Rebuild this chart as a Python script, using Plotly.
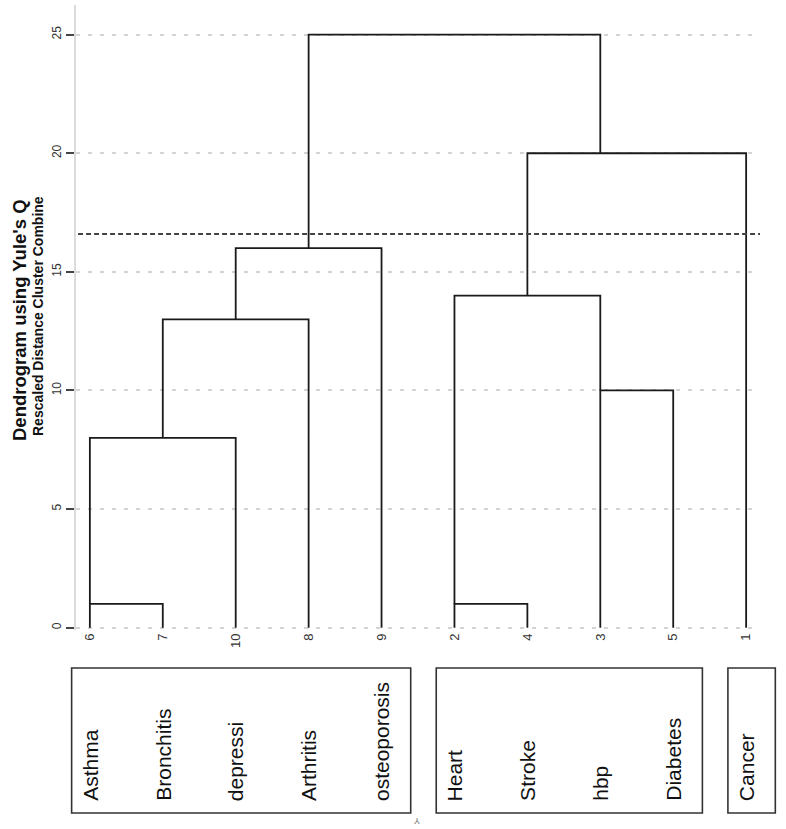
import math
import plotly.graph_objects as go

# ---------------- data ----------------
leaf_ids = [6, 7, 10, 8, 9, 2, 4, 3, 5, 1]
leaf_names = ["Asthma", "Bronchitis", "depressi", "Arthritis", "osteoporosis",
              "Heart", "Stroke", "hbp", "Diabetes", "Cancer"]
# merges: left node, right node, height (ints = case ids, "cK" = K-th merge)
merge_left = [6, 2, "c0", 3, "c2", "c1", "c4", "c5", "c6"]
merge_right = [7, 4, 10, 5, 8, "c3", 9, 1, "c7"]
merge_height = [1, 1, 8, 10, 13, 14, 16, 20, 25]
cut_height = 16.6
groups = [[6, 7, 10, 8, 9], [2, 4, 3, 5], [1]]
y_ticks = [0, 5, 10, 15, 20, 25]

# ---------------- layout constants ----------------
W, H = 786, 829
ML, MR, MT, MB = 76, 26, 5, 199
XR = [-0.19, 9.19]
YR = [-0.1, 26.25]

pos = {}
hgt = {}
for i, lid in enumerate(leaf_ids):
    pos[lid] = i
    hgt[lid] = 0.0

xs, ys = [], []
for k, (a, b, h) in enumerate(zip(merge_left, merge_right, merge_height)):
    pa, pb = pos[a], pos[b]
    xs += [pa, pa, pb, pb, None]
    ys += [hgt[a], h, h, hgt[b], None]
    pos["c%d" % k] = math.floor((pa + pb) / 2)
    hgt["c%d" % k] = h

fig = go.Figure()
fig.add_trace(go.Scatter(x=xs, y=ys, mode="lines",
                         line=dict(color="#1a1a1a", width=1.8),
                         hoverinfo="skip", showlegend=False))

plot_w = W - ML - MR
plot_h = H - MT - MB

def px_x(d):
    return (d - XR[0]) / (XR[1] - XR[0])

def paper_x(px):
    return (px - ML) / plot_w

def py_paper(py):
    return (H - MB - py) / plot_h

shapes = []
# threshold line
shapes.append(dict(type="line", xref="paper", yref="y", x0=0.003, x1=1,
                   y0=cut_height, y1=cut_height,
                   line=dict(color="#444444", width=2, dash="5px,3px")))
# group boxes
pad_l, pad_r = 0.25, 0.4
for g in groups:
    p0 = min(leaf_ids.index(c) for c in g)
    p1 = max(leaf_ids.index(c) for c in g)
    shapes.append(dict(type="rect", xref="paper", yref="paper",
                       x0=px_x(p0 - pad_l), x1=px_x(p1 + pad_r),
                       y0=py_paper(813), y1=py_paper(668),
                       line=dict(color="#333333", width=1.6),
                       fillcolor="rgba(0,0,0,0)"))

annotations = []
for i, name in enumerate(leaf_names):
    annotations.append(dict(x=i, y=py_paper(803), xref="x", yref="paper",
                            text=name, textangle=-90, showarrow=False,
                            xanchor="center", yanchor="bottom",
                            font=dict(family="Liberation Sans, Arial", size=21,
                                      color="#111111")))

annotations.append(dict(x=paper_x(19), y=py_paper(320), xref="paper", yref="paper",
                        text="<b>Dendrogram using Yule's Q</b>", textangle=-90,
                        showarrow=False, xanchor="center", yanchor="middle",
                        font=dict(family="Liberation Sans, Arial", size=18.5, color="#111111")))
annotations.append(dict(x=paper_x(38), y=py_paper(316), xref="paper", yref="paper",
                        text="<b>Rescaled Distance Cluster Combine</b>", textangle=-90,
                        showarrow=False, xanchor="center", yanchor="middle",
                        font=dict(family="Liberation Sans, Arial", size=14, color="#111111")))
annotations.append(dict(x=paper_x(417), y=py_paper(821), xref="paper", yref="paper",
                        text="Y", textangle=180, showarrow=False,
                        xanchor="center", yanchor="middle",
                        font=dict(family="Liberation Sans, Arial", size=9, color="#777777")))

fig.update_layout(
    width=W, height=H,
    margin=dict(l=ML, r=MR, t=MT, b=MB, pad=0),
    plot_bgcolor="white", paper_bgcolor="white",
    showlegend=False,
    shapes=shapes, annotations=annotations,
    font=dict(family="Liberation Sans, Arial", color="#333333"),
)
fig.update_xaxes(range=XR, tickmode="array", tickvals=list(range(len(leaf_ids))),
                 ticktext=[str(v) for v in leaf_ids], tickangle=-90,
                 showgrid=False, zeroline=False, showline=False, ticks="",
                 tickfont=dict(size=13, color="#333333"))
fig.update_yaxes(range=YR, tickmode="array", tickvals=y_ticks,
                 ticktext=[str(v) for v in y_ticks], tickangle=-90,
                 showgrid=True, gridcolor="#d4d4d4", gridwidth=1.5, griddash="4px,8px",
                 zeroline=False, showline=True, linecolor="#dcdcdc", linewidth=2,
                 ticks="outside", ticklen=8, tickwidth=2, tickcolor="#444444",
                 tickfont=dict(size=12, color="#333333"))

fig.write_html("out.html", config={"displayModeBar": False},
               post_script="document.body.style.margin='0';")
